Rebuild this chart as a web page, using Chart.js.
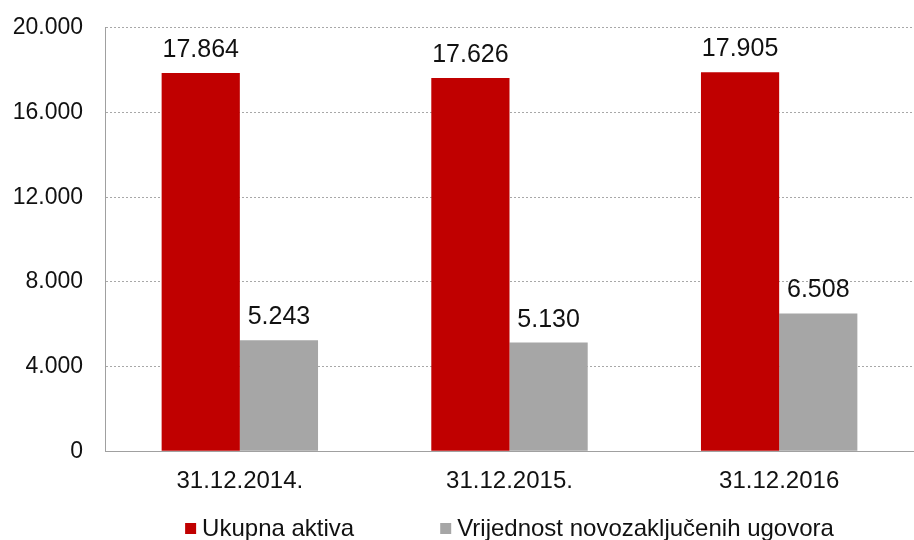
<!DOCTYPE html>
<html>
<head>
<meta charset="utf-8">
<script src="https://cdn.jsdelivr.net/npm/chart.js@4"></script>
<style>
  html, body { margin: 0; padding: 0; background: #fff; }
  #wrap { width: 914px; height: 540px; }
</style>
</head>
<body>
<div id="wrap"><canvas id="chart1" width="914" height="540"></canvas></div>
<script>
// podaci s grafa
const categories = ['31.12.2014.', '31.12.2015.', '31.12.2016'];
const ukupnaAktiva = [17864, 17626, 17905];
const novozakljuceni = [5243, 5130, 6508];
const seriesNames = ['Ukupna aktiva', 'Vrijednost novozaključenih ugovora'];
const yTicks = [0, 4000, 8000, 12000, 16000, 20000];

const FONT = '"Liberation Sans", Arial, sans-serif';

function fmt(v) {
    // tisuće odvojene točkom
    return v.toString().replace(/\B(?=(\d{3})+(?!\d))/g, '.');
}

// vrijednosti iznad stupaca
const valueLabels = {
    id: 'valueLabels',
    afterDatasetsDraw(chart) {
        const ctx = chart.ctx;
        ctx.save();
        ctx.font = '25px ' + FONT;
        ctx.fillStyle = '#111';
        ctx.textAlign = 'center';
        ctx.textBaseline = 'alphabetic';
        chart.data.datasets.forEach((ds, i) => {
            chart.getDatasetMeta(i).data.forEach((bar, j) => {
                ctx.fillText(fmt(ds.data[j]), bar.x, bar.y - 16);
            });
        });
        ctx.restore();
    }
};

// legenda ispod grafa, centrirana na područje grafa
const bottomLegend = {
    id: 'bottomLegend',
    afterDraw(chart) {
        const ctx = chart.ctx;
        const area = chart.chartArea;
        const box = 11, gap = 6, itemGap = 86;
        ctx.save();
        ctx.font = '24px ' + FONT;
        ctx.textBaseline = 'alphabetic';
        ctx.textAlign = 'left';
        const items = chart.data.datasets.map(ds => ({
            text: ds.label,
            color: ds.backgroundColor,
            w: ctx.measureText(ds.label).width
        }));
        let total = 0;
        items.forEach((it, i) => {
            total += box + gap + it.w + (i > 0 ? itemGap : 0);
        });
        let x = (area.left + area.right) / 2 - total / 2;
        const baseline = 536;
        items.forEach(it => {
            ctx.fillStyle = it.color;
            ctx.fillRect(x, baseline - 13, box, box);
            ctx.fillStyle = '#111';
            ctx.fillText(it.text, x + box + gap, baseline);
            x += box + gap + it.w + itemGap;
        });
        ctx.restore();
    }
};

const ctx = document.getElementById('chart1').getContext('2d');
new Chart(ctx, {
    type: 'bar',
    data: {
        labels: categories,
        datasets: [
            { label: seriesNames[0], data: ukupnaAktiva, backgroundColor: '#C00000' },
            { label: seriesNames[1], data: novozakljuceni, backgroundColor: '#A6A6A6' }
        ]
    },
    options: {
        responsive: false,
        animation: false,
        devicePixelRatio: 1,
        layout: { padding: { top: 0, right: 0, left: 0, bottom: 28 } },
        datasets: {
            bar: { categoryPercentage: 0.58, barPercentage: 1.0 }
        },
        plugins: {
            legend: { display: false },
            tooltip: { enabled: false },
            title: { display: false }
        },
        scales: {
            x: {
                grid: { display: false, drawTicks: false },
                border: { color: '#a0a0a0', width: 1 },
                ticks: {
                    font: { family: FONT, size: 24 },
                    color: '#111',
                    padding: 16
                }
            },
            y: {
                min: 0,
                max: 20000,
                afterBuildTicks(scale) {
                    scale.ticks = yTicks.map(v => ({ value: v }));
                },
                afterFit(scale) {
                    scale.width = 105;
                },
                border: { color: '#a0a0a0', width: 1, dash: [2, 2] },
                grid: {
                    color: '#a8a8a8',
                    lineWidth: 1,
                    drawTicks: true,
                    tickLength: 8,
                    tickColor: 'rgba(0,0,0,0)'
                },
                ticks: {
                    font: { family: FONT, size: 23 },
                    color: '#111',
                    padding: 14,
                    callback: v => fmt(v)
                }
            }
        }
    },
    plugins: [valueLabels, bottomLegend]
});
</script>
</body>
</html>
